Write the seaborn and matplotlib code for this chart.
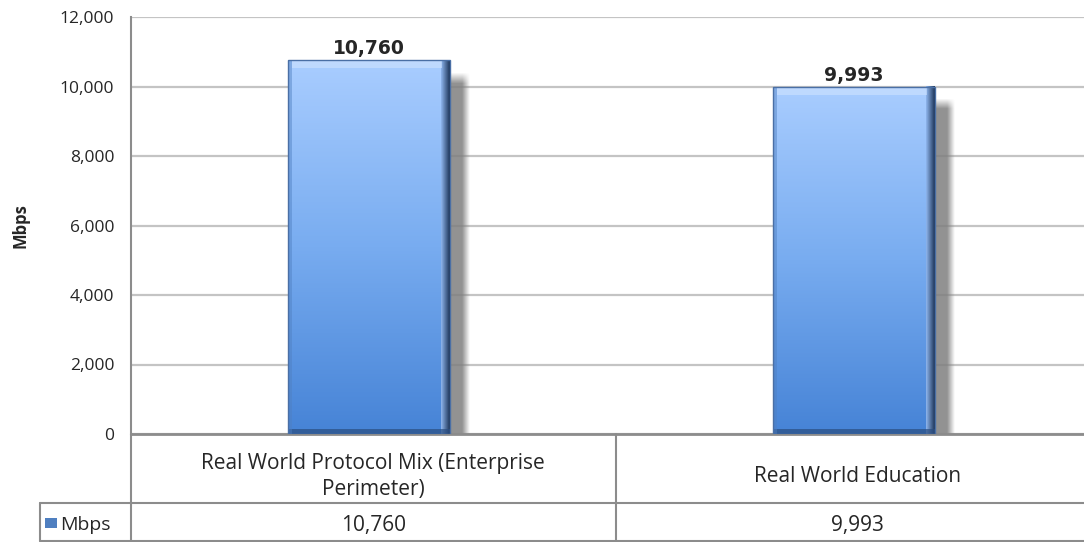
import numpy as np
import pandas as pd
import matplotlib
matplotlib.use("Agg")
import matplotlib.pyplot as plt
import matplotlib.transforms as mtransforms
from matplotlib.patches import Rectangle
from matplotlib.colors import LinearSegmentedColormap
import seaborn as sns

categories = ["Real World Protocol Mix (Enterprise\nPerimeter)", "Real World Education"]
values = [10760, 9993]
series_name = "Mbps"
yticks = [0, 2000, 4000, 6000, 8000, 10000, 12000]

sns.set_style("white")
plt.rcParams["font.family"] = ["Open Sans", "DejaVu Sans"]

df = pd.DataFrame({"cat": categories, "val": values})

fig = plt.figure(figsize=(10.84, 5.42), dpi=100)
# plot area runs past the right edge of the picture, as in the reference
ax = fig.add_axes([131 / 1084, 108 / 542, 969 / 1084, 417 / 542])

sns.barplot(data=df, x="cat", y="val", ax=ax, width=0.334, color="#6fa3ea",
            edgecolor="none", zorder=3)

ax.set_ylim(0, 12000)
ax.set_xlim(-0.5, 1.5)
ax.set_yticks(yticks)
ax.set_yticklabels([f"{t:,}" for t in yticks], fontsize=12.5)
ax.tick_params(axis="y", length=0, pad=12)
ax.set_xticks([])
ax.set_xlabel("")
ax.set_ylabel("Mbps", fontsize=12, fontweight="bold", labelpad=22)
ax.yaxis.grid(True, color="#c4c4c4", lw=1.6, zorder=0)
for s in ["top", "right"]:
    ax.spines[s].set_visible(False)
ax.spines["left"].set_color("#8c8c8c")
ax.spines["left"].set_linewidth(1.5)
ax.spines["bottom"].set_color("#8c8c8c")
ax.spines["bottom"].set_linewidth(2)

px = 969 / 2  # pixels per category unit
py = 417 / 12000  # pixels per Mbps

cmap = LinearSegmentedColormap.from_list("bar", ["#4683d6", "#78acf0", "#a9cdff"])
edge_r = LinearSegmentedColormap.from_list("er", ["#8fb6ee", "#1c3458"])
grad = np.linspace(0, 1, 256).reshape(-1, 1)

# soft shadow image: fades to the right and at the top
sw = 20
xs = np.linspace(0, 1, 60)
fade_x = np.clip((1 - xs) / 0.35, 0, 1)
ys = np.linspace(0, 1, 300)
fade_y = np.clip((1 - ys) / 0.03, 0, 1)
shadow = np.zeros((len(ys), len(xs), 4))
shadow[..., :3] = 0.5
shadow[..., 3] = 0.85 * fade_y[:, None] * fade_x[None, :]

for p in list(ax.patches):
    x0, w, h = p.get_x() - 4 / px, p.get_width(), p.get_height()
    p.set_x(x0)
    top = h - 12 / py
    ax.imshow(shadow, extent=[x0 + w - 2 / px, x0 + w + sw / px, 0, top],
              origin="lower", aspect="auto", zorder=2, interpolation="bilinear")
    im = ax.imshow(grad, extent=[x0, x0 + w, 0, h], origin="lower", cmap=cmap,
                   aspect="auto", zorder=4)
    im.set_clip_path(p)
    # bevel: right dark edge
    ax.imshow(np.linspace(0, 1, 64).reshape(1, -1),
              extent=[x0 + w - 9 / px, x0 + w, 0, h], cmap=edge_r,
              aspect="auto", zorder=5)
    # bottom dark edge
    ax.add_patch(Rectangle((x0, 0), w, 5 / py, color="#2a4d80", alpha=0.7,
                           zorder=5, lw=0))
    # left edge
    ax.add_patch(Rectangle((x0, 0), 4 / px, h, color="#4f7fc0", alpha=0.45,
                           zorder=5, lw=0))
    # top light band
    ax.add_patch(Rectangle((x0 + 4 / px, h - 8 / py), w - 12 / px, 7 / py,
                           color="#cfe3ff", alpha=0.6, zorder=5, lw=0))
    ax.add_patch(Rectangle((x0, 0), w, h, fill=False, ec="#4a6fa5", lw=1,
                           zorder=6))
    ax.text(x0 + w / 2, h + 60, f"{h:,.0f}", ha="center", va="bottom",
            fontsize=13.5, fontweight="bold", family="DejaVu Sans", zorder=6)
ax.set_xlim(-0.5, 1.5)
ax.set_ylim(0, 12000)

# data table below the axes
trans = mtransforms.blended_transform_factory(ax.transData, ax.transAxes)
r1 = -69 / 417
r2 = -107 / 417
lc = "#8c8c8c"
for xv in [-0.5, 0.5]:
    ax.plot([xv, xv], [0, r2], transform=trans, color=lc, lw=1.5,
            clip_on=False)
hx0 = -0.5 - 91 / px
ax.plot([-0.5, 1.5], [r1, r1], transform=trans, color=lc, lw=1.5, clip_on=False)
ax.plot([hx0, -0.5], [r1, r1], transform=trans, color=lc, lw=1.5, clip_on=False)
ax.plot([hx0, 1.5], [r2, r2], transform=trans, color=lc, lw=1.5, clip_on=False)
ax.plot([hx0, hx0], [r1, r2], transform=trans, color=lc, lw=1.5, clip_on=False)
for i, c in enumerate(categories):
    ax.text(i, r1 / 2 - 8 / 417, c, transform=trans, ha="center", va="center",
            fontsize=15, linespacing=1.35)
    ax.text(i, (r1 + r2) / 2 - 3 / 417, f"{values[i]:,}", transform=trans,
            ha="center", va="center", fontsize=15)
kx = hx0 + 5 / px
ax.add_patch(Rectangle((kx, (r1 + r2) / 2 - 6 / 417), 12 / px, 10 / 417,
                       transform=trans, clip_on=False, color="#4f7fc0", lw=0))
ax.text(kx + 15 / px, (r1 + r2) / 2 - 3 / 417, series_name, transform=trans,
        ha="left", va="center", fontsize=14)

fig.savefig("out.png", dpi=100)
